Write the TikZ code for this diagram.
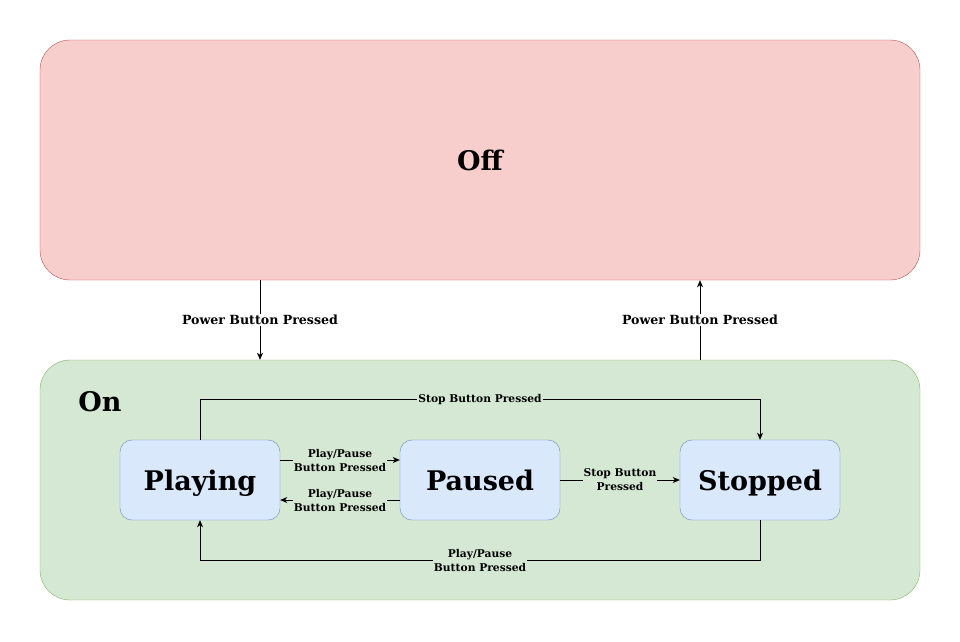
\documentclass[tikz,border=0pt]{standalone}
\usepackage{fontspec}
\setmainfont{DejaVu Serif}
\usetikzlibrary{arrows.meta}
\definecolor{offfill}{HTML}{F8CECC}
\definecolor{offline}{HTML}{B85450}
\definecolor{onfill}{HTML}{D5E8D4}
\definecolor{online}{HTML}{82B366}
\definecolor{statefill}{HTML}{DAE8FC}
\definecolor{stateline}{HTML}{6C8EBF}
\begin{document}
\begin{tikzpicture}[x=1pt,y=-1pt,
  group/.style={rounded corners=30pt, minimum width=880pt, minimum height=240pt,
    font=\bfseries\fontsize{27}{30}\selectfont},
  state/.style={draw=stateline, fill=statefill, rounded corners=12pt,
    minimum width=160pt, minimum height=80pt, text height=20pt, text depth=0pt,
    font=\bfseries\fontsize{27}{30}\selectfont},
  arr/.style={-{Stealth[length=7pt,width=6pt,inset=2pt]}, line width=0.8pt},
  lbl/.style={font=\bfseries\fontsize{10.7}{14}\selectfont, align=center, inner sep=1pt}]
  \useasboundingbox (0,0) rectangle (960,641);
  % the two big states
  \node[group, draw=offline, fill=offfill] (off) at (480,160) {Off};
  \node[group, draw=online, fill=onfill] (on) at (480,480) {};
  \node[font=\bfseries\fontsize{27}{30}\selectfont] (onlabel) at (100,402) {On};
  % states inside On
  \node[state] (playing) at (200,480) {Playing};
  \node[state] (paused) at (480,480) {Paused};
  \node[state] (stopped) at (760,480) {Stopped};
  % power
  \draw[arr] ([xshift=-220pt]off.south) -- ([xshift=-220pt]on.north)
    node[midway, lbl, fill=white, font=\bfseries\fontsize{12.6}{15}\selectfont] {Power Button Pressed};
  \draw[arr] ([xshift=220pt]on.north) -- ([xshift=220pt]off.south)
    node[midway, lbl, fill=white, font=\bfseries\fontsize{12.6}{15}\selectfont] {Power Button Pressed};
  % inside
  \draw[arr] (playing.north) -- ++(0,-40) -| (stopped.north)
    node[pos=0.25, lbl, fill=onfill] {Stop Button Pressed};
  \draw[arr] ([yshift=20pt]playing.east) -- ([yshift=20pt]paused.west)
    node[midway, lbl, fill=onfill] {Play/Pause\\Button Pressed};
  \draw[arr] ([yshift=-20pt]paused.west) -- ([yshift=-20pt]playing.east)
    node[midway, lbl, fill=onfill] {Play/Pause\\Button Pressed};
  \draw[arr] (paused.east) -- (stopped.west)
    node[midway, lbl, fill=onfill] {Stop Button\\Pressed};
  \draw[arr] (stopped.south) -- ++(0,40) -| (playing.south)
    node[pos=0.25, lbl, fill=onfill] {Play/Pause\\Button Pressed};
\end{tikzpicture}
\end{document}
